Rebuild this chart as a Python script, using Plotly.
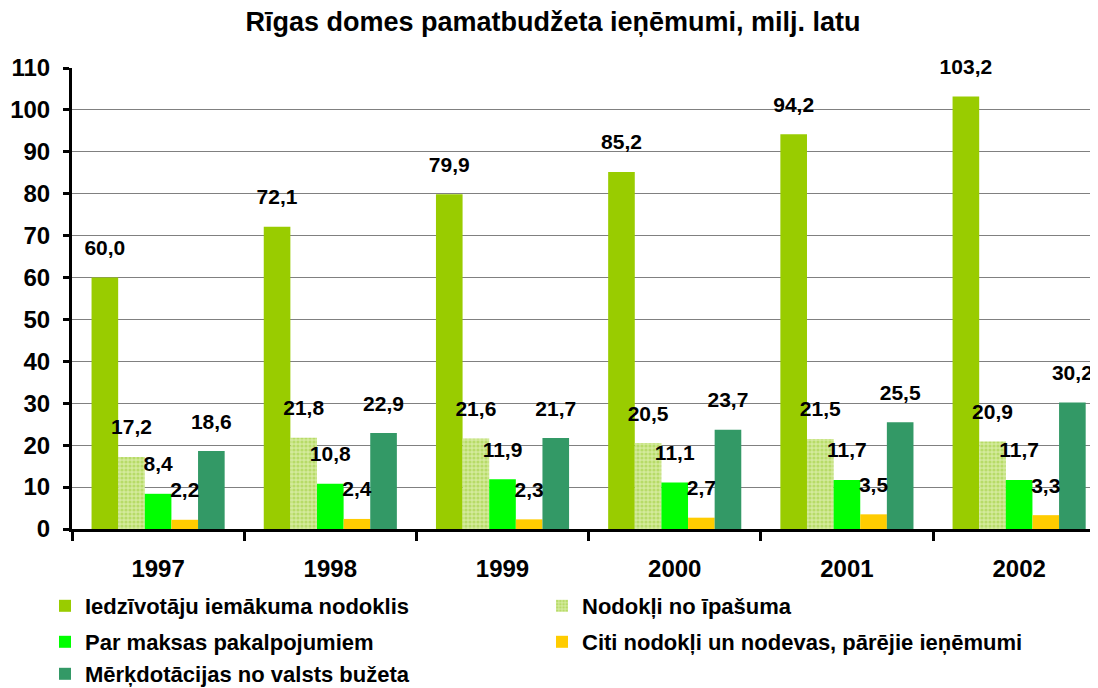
import plotly.graph_objects as go

years = ['1997', '1998', '1999', '2000', '2001', '2002']
iedz_nodoklis = [60.0, 72.1, 79.9, 85.2, 94.2, 103.2]
ipasuma_nodokli = [17.2, 21.8, 21.6, 20.5, 21.5, 20.9]
maksas_pakalp = [8.4, 10.8, 11.9, 11.1, 11.7, 11.7]
citi_nodokli = [2.2, 2.4, 2.3, 2.7, 3.5, 3.3]
merkdotacijas = [18.6, 22.9, 21.7, 23.7, 25.5, 30.2]

# name, values, colour, pattern colour, legend row
series = [
    ('Iedzīvotāju iemākuma nodoklis', iedz_nodoklis, '#99CC00', None, 'legend'),
    ('Nodokļi no īpašuma', ipasuma_nodokli, '#D4EA9C', '#99CC33', 'legend'),
    ('Par maksas pakalpojumiem', maksas_pakalp, '#00FF00', None, 'legend2'),
    ('Citi nodokļi un nodevas, pārējie ieņēmumi', citi_nodokli, '#FFCC00', None, 'legend2'),
    ('Mērķdotācijas no valsts bužeta', merkdotacijas, '#339966', None, 'legend3'),
]

font = 'Liberation Sans, Arial, sans-serif'
# page body has an 8px margin, so the figure is 8px smaller than the window
W, H = 1090, 680

fig = go.Figure()
for i, (name, vals, color, fg, leg) in enumerate(series):
    marker = dict(color=color, line=dict(width=0))
    if fg:
        marker['pattern'] = dict(shape='.', fgcolor=fg, bgcolor=color, size=4, solidity=0.5)
    fig.add_trace(go.Bar(x=years, y=vals, name=name, marker=marker, legend=leg,
                         offsetgroup=str(i)))

# value labels: invisible markers push the text up a bit, like Excel does
for i, (name, vals, color, fg, leg) in enumerate(series):
    labels = [f'{v:.1f}'.replace('.', ',') for v in vals]
    fig.add_trace(go.Scatter(x=years, y=vals, mode='markers+text', text=labels,
                             textposition='top center', offsetgroup=str(i),
                             marker=dict(size=26, opacity=0), showlegend=False,
                             hoverinfo='skip', cliponaxis=False,
                             textfont=dict(family=font, size=21, color='black', weight='bold')))

leg_style = dict(orientation='h', xref='container', yref='container',
                 x=37 / W, xanchor='left', yanchor='middle',
                 entrywidth=452, entrywidthmode='pixels',
                 bgcolor='rgba(0,0,0,0)',
                 font=dict(size=22, weight='bold', family=font), itemwidth=30)

fig.update_layout(
    width=W, height=H,
    barmode='group', bargap=0.227, bargroupgap=0,
    scattermode='group', scattergap=0.227,
    plot_bgcolor='white', paper_bgcolor='white',
    margin=dict(l=64, r=0, t=60, b=159, autoexpand=False),
    font=dict(family=font, size=18, color='black'),
    title=dict(text='<b>Rīgas domes pamatbudžeta ieņēmumi, milj. latu</b>',
               x=0.5, xanchor='center', y=1 - 14 / H, yanchor='middle',
               font=dict(size=27)),
    legend=dict(leg_style, y=1 - 598 / H),
    legend2=dict(leg_style, y=1 - 634 / H),
    legend3=dict(leg_style, y=1 - 666 / H),
    showlegend=True,
)
fig.update_yaxes(range=[0, 110], dtick=10, showgrid=True, gridcolor='#808080', gridwidth=1,
                 showline=True, linecolor='black', linewidth=3,
                 ticks='outside', ticklen=6, tickwidth=3, tickcolor='black',
                 ticklabelstandoff=8, automargin=False,
                 tickfont=dict(size=24, weight='bold'), zeroline=False)
fig.update_xaxes(range=[-0.5, 5.458], showline=True, linecolor='black', linewidth=3,
                 ticks='outside', tickson='boundaries', ticklen=9, tickwidth=3, tickcolor='black',
                 ticklabelstandoff=16, automargin=False,
                 tickfont=dict(size=24, weight='bold'))

fig.write_html("out.html")
